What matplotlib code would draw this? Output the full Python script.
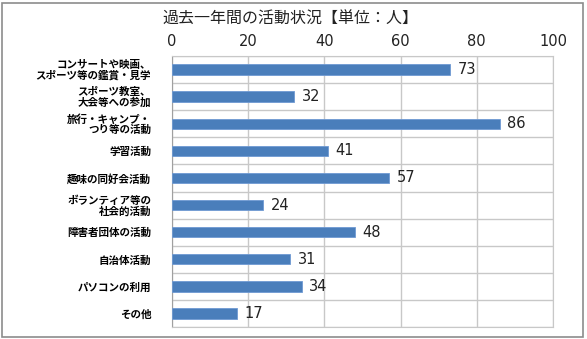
import matplotlib.pyplot as plt
import numpy as np

plt.rcParams['font.family'] = ['Noto Sans CJK JP', 'DejaVu Sans']

categories = ["コンサートや映画、\nスポーツ等の鑑賞・見学",
              "スポーツ教室、\n大会等への参加",
              "旅行・キャンプ・\nつり等の活動",
              "学習活動",
              "趣味の同好会活動",
              "ボランティア等の\n社会的活動",
              "障害者団体の活動",
              "自治体活動",
              "パソコンの利用",
              "その他"]
counts = [73, 32, 86, 41, 57, 24, 48, 31, 34, 17]
xticks = [0, 20, 40, 60, 80, 100]

fig = plt.figure(figsize=(5.87, 3.39), dpi=100)
ax = fig.add_axes([0.293, 0.035, 0.649, 0.80])

y = np.arange(len(categories))
ax.barh(y, counts, height=0.38, color='#4a7ebb', edgecolor='#6f9ad3', linewidth=0.6, zorder=3)
for yi, v in zip(y, counts):
    ax.text(v + 2, yi, str(v), va='center', ha='left', fontsize=10.5,
            family='DejaVu Sans', color='#222222')

ax.set_xlim(0, 100)
ax.set_ylim(len(categories) - 0.5, -0.5)
ax.set_xticks(xticks)
ax.xaxis.tick_top()
ax.tick_params(axis='x', length=0, pad=5, labelsize=10.5, labelcolor='#222222')
for lab in ax.get_xticklabels():
    lab.set_family('DejaVu Sans')

# category boundaries as horizontal grid lines
ax.set_yticks(y)
ax.set_yticklabels(categories, fontsize=7.6, fontweight='bold', linespacing=1.0)
ax.set_yticks(np.arange(len(categories) + 1) - 0.5, minor=True)
ax.tick_params(axis='y', which='both', length=0, pad=15)
ax.grid(True, axis='x', color='#c8c8c8', linewidth=1.0, zorder=0)
ax.grid(True, axis='y', which='minor', color='#c8c8c8', linewidth=1.0, zorder=0)
ax.grid(False, axis='y', which='major')

for side in ['top', 'right', 'bottom']:
    ax.spines[side].set_color('#c8c8c8')
ax.spines['left'].set_color('#a0a0a0')

fig.text(0.494, 0.943, "過去一年間の活動状況【単位：人】", ha='center', va='center', fontsize=11.5, color='#222222')

# outer frame around the whole chart
fig.add_artist(plt.Rectangle((0.004, 0.006), 0.99, 0.985, transform=fig.transFigure,
                             fill=False, edgecolor='#8c8c8c', linewidth=1.2))

fig.savefig('out.png', dpi=100)
